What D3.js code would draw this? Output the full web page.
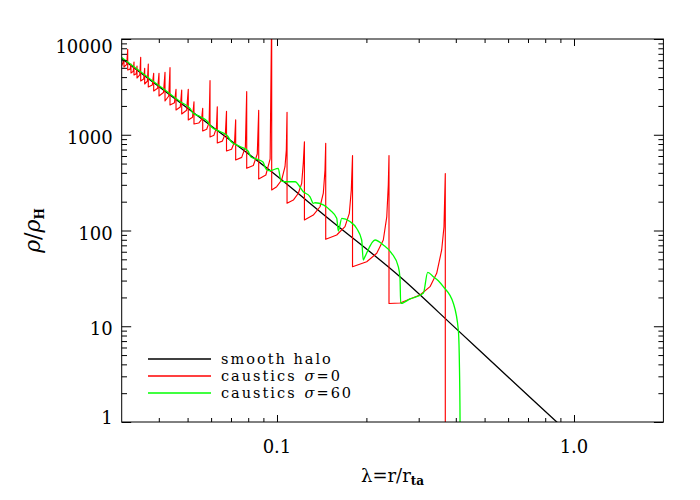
<!DOCTYPE html>
<html>
<head>
<meta charset="utf-8">
<script src="https://cdn.jsdelivr.net/npm/d3@7"></script>
<style>
body { margin: 0; background: #fff; }
text { font-family: "DejaVu Serif", serif; fill: #000; }
</style>
</head>
<body>
<div id="chart"></div>
<script>
const width = 700;
const height = 500;

// smooth halo profile
const haloLambda = [0.03, 0.05, 0.095, 0.15, 0.263, 0.4, 0.6, 0.875, 1.0];
const haloRho = [6250, 1890, 420, 131, 31.7, 9.5, 2.95, 1.0, 0.68];

// caustics sigma=0 : position of each caustic, density at the spike and just outside it
const causticLambda = [0.03053, 0.03143, 0.03224, 0.0330, 0.03378, 0.03476, 0.03585, 0.03687,
    0.03844, 0.04006, 0.04197, 0.04363, 0.04571, 0.04777, 0.05027, 0.05254, 0.05622, 0.0595,
    0.06295, 0.06761, 0.07259, 0.07907, 0.08678, 0.09597, 0.1081, 0.1237, 0.1459, 0.1796,
    0.2383, 0.3687];
const causticPeak = [6040, 7800, 5480, 5750, 5220, 6440, 4940, 5480, 4380, 4380, 4490, 5020,
    2980, 2930, 2980, 2210, 1890, 3670, 1960, 1760, 1430, 2820, 1800, 20000, 1716, 846, 814,
    607, 607, 394];
const causticFloor = [5100, 4745, 4414, 4207, 3914, 3642, 3388, 3153, 2863, 2539, 2252, 2045,
    1814, 1647, 1426, 1295, 1094, 947, 820, 677, 545, 446, 345, 265, 193, 129, 80.9, 41.9,
    17.3, 0.3];
// points on the rising parts between caustics
const riseLambda = [0.0300, 0.03120, 0.03203, 0.03281, 0.03358, 0.03451, 0.03557, 0.03661,
    0.03804, 0.03964, 0.04148, 0.04321, 0.04517, 0.04725, 0.04963, 0.05196,
    0.05452, 0.05575, 0.05798, 0.05909, 0.06136, 0.06252, 0.06546, 0.06703,
    0.07031, 0.07198, 0.07607, 0.07825, 0.08323, 0.08582, 0.09173, 0.09482,
    0.09977, 0.1037, 0.1064, 0.1075, 0.1135, 0.1180, 0.1211, 0.1226,
    0.1325, 0.1396, 0.1432, 0.1451, 0.1589, 0.1694, 0.1752, 0.1779,
    0.2005, 0.2167, 0.2280, 0.2342, 0.2370,
    0.2595, 0.3030, 0.3275, 0.3449, 0.3585, 0.3650];
const riseRho = [5250, 5436, 4849, 4593, 4347, 4218, 3813, 3641,
    3313, 3052, 2765, 2539, 2164, 1949, 1800, 1523,
    1325, 1450, 1141, 1346, 990, 1179, 858, 1031,
    707, 846, 580, 743, 478, 630, 380, 560,
    287, 337, 464, 693, 208, 245, 311, 503,
    145, 177, 245, 428, 89.7, 109.6, 151, 265,
    47.2, 57.8, 79.6, 139, 299,
    17.5, 21.2, 25.9, 35.7, 62.6, 109.6];

// caustics sigma=60
const greenLambda = [0.0300, 0.03326, 0.03736, 0.04197, 0.04714, 0.05095, 0.05214, 0.05504,
    0.05858, 0.05995, 0.06428, 0.06839, 0.0700, 0.07506, 0.07987, 0.08176, 0.0863, 0.08972,
    0.09183, 0.09472, 0.1010, 0.1031, 0.1064, 0.1150, 0.1226, 0.1292, 0.1325, 0.1343, 0.1432,
    0.1508, 0.1589, 0.1609, 0.1652, 0.1761, 0.1855, 0.1928, 0.1952, 0.1978, 0.2138, 0.2280,
    0.2433, 0.2561, 0.2595, 0.2609, 0.2804, 0.3109, 0.3217, 0.3360, 0.3493, 0.3630, 0.3924,
    0.4079, 0.4111, 0.4134, 0.4137];
const greenRho = [6409, 5039, 3821, 2933, 2225, 1880, 1687, 1551,
    1359, 1220, 1081, 959, 850, 754, 677, 586, 551, 519,
    439, 421, 446, 331, 323, 323, 254, 225, 192, 195, 185,
    164, 134, 98.8, 134, 124, 105, 79.6, 49.2, 53.3, 79.6, 70.6,
    57.8, 41.9, 31.9, 17.3, 19.3, 22.1, 36.6, 32.9, 29.9, 25.9, 17.4,
    9.14, 4.44, 1.0, 0.5];

const xMajor = [0.1, 1.0];
const xMinor = [0.04, 0.05, 0.06, 0.07, 0.08, 0.09, 0.2, 0.3, 0.4, 0.5, 0.6, 0.7, 0.8, 0.9];
const yMajor = [1, 10, 100, 1000, 10000];
const yMinor = [1, 10, 100, 1000].flatMap(d => [2, 3, 4, 5, 6, 7, 8, 9].map(k => k * d));

const legendLabels = ["smooth halo", "caustics", "caustics"];
const legendSigma = ["", "0", "60"];
const legendColors = ["#000000", "#ff0000", "#00ff00"];

const x = d3.scaleLog().domain([0.03, 2.0]).range([121.7, 663.4]);
const y = d3.scaleLog().domain([1, 10000]).range([422, 39]);

const svg = d3.select("#chart").append("svg")
    .attr("width", width)
    .attr("height", height);

svg.append("defs").append("clipPath").attr("id", "plotclip")
    .append("rect")
        .attr("x", x.range()[0])
        .attr("y", y.range()[1])
        .attr("width", x.range()[1] - x.range()[0])
        .attr("height", y.range()[0] - y.range()[1]);

const plot = svg.append("g").attr("clip-path", "url(#plotclip)");

const smoothLine = d3.line()
    .x(d => x(d[0]))
    .y(d => y(d[1]))
    .curve(d3.curveMonotoneX);
const straightLine = d3.line()
    .x(d => x(d[0]))
    .y(d => y(d[1]));

// smooth halo
plot.append("path")
    .datum(haloLambda.map((l, i) => [l, haloRho[i]]))
    .attr("fill", "none")
    .attr("stroke", legendColors[0])
    .attr("stroke-width", 1.3)
    .attr("d", smoothLine);

// red caustics: merge rises with the spikes (peak first, then the drop)
const redPts = riseLambda.map((l, i) => ({l: l, r: riseRho[i], o: 0}));
causticLambda.forEach((l, i) => {
    redPts.push({l: l, r: causticPeak[i], o: 0});
    redPts.push({l: l, r: causticFloor[i], o: 1});
});
redPts.sort((a, b) => a.l - b.l || a.o - b.o);

plot.append("path")
    .datum(redPts.map(d => [d.l, d.r]))
    .attr("fill", "none")
    .attr("stroke", legendColors[1])
    .attr("stroke-width", 1.15)
    .attr("stroke-linejoin", "round")
    .attr("d", straightLine);

plot.append("path")
    .datum(greenLambda.map((l, i) => [l, greenRho[i]]))
    .attr("fill", "none")
    .attr("stroke", legendColors[2])
    .attr("stroke-width", 1.3)
    .attr("d", smoothLine);

// frame
svg.append("rect")
    .attr("x", x.range()[0])
    .attr("y", y.range()[1])
    .attr("width", x.range()[1] - x.range()[0])
    .attr("height", y.range()[0] - y.range()[1])
    .attr("fill", "none")
    .attr("stroke", "#000")
    .attr("stroke-width", 1);

function tickAxis(axis, values, size, g) {
    g.call(axis.tickValues(values).tickSize(size).tickFormat(""));
    g.select(".domain").remove();
    g.selectAll("line").attr("stroke", "#000");
}

// bottom and top
tickAxis(d3.axisBottom(x), xMajor, -7, svg.append("g").attr("transform", `translate(0,${y.range()[0]})`));
tickAxis(d3.axisBottom(x), xMinor, -4, svg.append("g").attr("transform", `translate(0,${y.range()[0]})`));
tickAxis(d3.axisTop(x), xMajor, -7, svg.append("g").attr("transform", `translate(0,${y.range()[1]})`));
tickAxis(d3.axisTop(x), xMinor, -4, svg.append("g").attr("transform", `translate(0,${y.range()[1]})`));
// left and right
tickAxis(d3.axisLeft(y), yMajor, -9.5, svg.append("g").attr("transform", `translate(${x.range()[0]},0)`));
tickAxis(d3.axisLeft(y), yMinor, -5.3, svg.append("g").attr("transform", `translate(${x.range()[0]},0)`));
tickAxis(d3.axisRight(y), yMajor, -9.5, svg.append("g").attr("transform", `translate(${x.range()[1]},0)`));
tickAxis(d3.axisRight(y), yMinor, -5, svg.append("g").attr("transform", `translate(${x.range()[1]},0)`));

// tick labels
svg.append("g").selectAll("text")
    .data(xMajor)
    .join("text")
        .attr("x", d => x(d))
        .attr("y", y.range()[0] + 30.5)
        .attr("text-anchor", "middle")
        .attr("font-size", 18)
        .text(d => d3.format(".1f")(d));

svg.append("g").selectAll("text")
    .data(yMajor)
    .join("text")
        .attr("x", x.range()[0] - 9)
        .attr("y", d => Math.min(Math.max(y(d) + 9, y.range()[1] + 13.5), y.range()[0] + 1.5))
        .attr("text-anchor", "end")
        .attr("font-size", 18)
        .text(d => d);

// axis titles
const xt = svg.append("text")
    .attr("x", (x.range()[0] + x.range()[1]) / 2)
    .attr("y", 482)
    .attr("text-anchor", "middle")
    .attr("font-size", 18);
xt.append("tspan").text("λ=r/r");
xt.append("tspan").attr("font-size", 12).attr("font-weight", "bold")
    .attr("dy", 3).text("ta");

const yt = svg.append("text")
    .attr("transform", `translate(40,${(y.range()[0] + y.range()[1]) / 2}) rotate(-90)`)
    .attr("text-anchor", "middle")
    .attr("font-size", 22);
yt.append("tspan").attr("font-style", "italic").text("ρ");
yt.append("tspan").text("/");
yt.append("tspan").attr("font-style", "italic").text("ρ");
yt.append("tspan").attr("font-size", 12).attr("font-weight", "bold")
    .attr("dy", 4).text("H");

// legend
const legend = svg.append("g").selectAll("g")
    .data(legendLabels)
    .join("g")
        .attr("transform", (d, i) => `translate(148,${359 + i * 17})`);
legend.append("line")
    .attr("x1", 0).attr("x2", 63)
    .attr("stroke", (d, i) => legendColors[i])
    .attr("stroke-width", 1.3);
legend.each(function(d, i) {
    const g = d3.select(this);
    let cx = 73;
    const parts = [[d, "normal"]];
    if (legendSigma[i] !== "") {
        parts.push(["σ", "italic"], ["=" + legendSigma[i], "normal"]);
    }
    parts.forEach((p, k) => {
        if (k === 1) cx += 8;
        const t = g.append("text")
            .attr("x", cx)
            .attr("y", 5)
            .attr("font-size", 14.5)
            .attr("letter-spacing", 2)
            .attr("font-style", p[1])
            .text(p[0]);
        cx += t.node().getComputedTextLength();
    });
});
</script>
</body>
</html>
